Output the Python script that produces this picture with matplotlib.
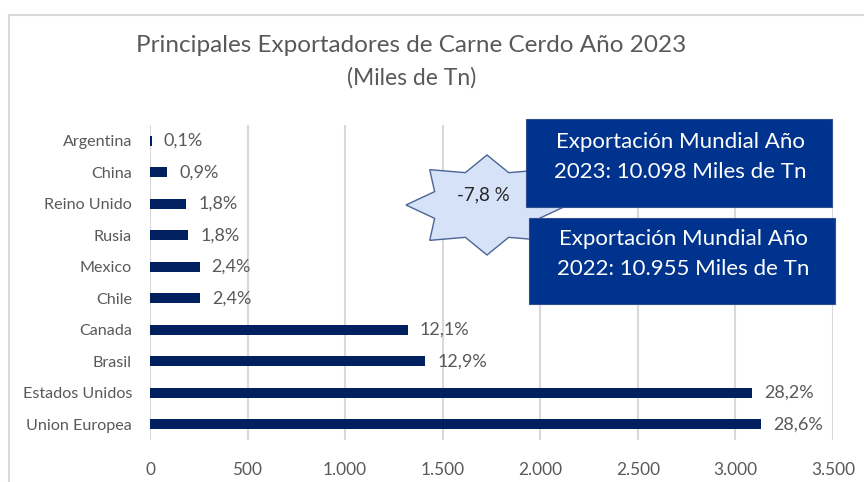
import matplotlib
matplotlib.use("Agg")
import matplotlib.pyplot as plt
import numpy as np
from matplotlib.patches import Rectangle, Polygon
from matplotlib.lines import Line2D

plt.rcParams["font.family"] = ["Lato", "DejaVu Sans"]

# exportaciones 2023, miles de Tn
paises = ["Argentina", "China", "Reino Unido", "Rusia", "Mexico", "Chile",
          "Canada", "Brasil", "Estados Unidos", "Union Europea"]
miles_tn = [8, 88, 185, 195, 254, 258, 1320, 1411, 3087, 3130]
participacion = ["0,1%", "0,9%", "1,8%", "1,8%", "2,4%", "2,4%",
                 "12,1%", "12,9%", "28,2%", "28,6%"]
xticks = [0, 500, 1000, 1500, 2000, 2500, 3000, 3500]
xtick_labels = ["0", "500", "1.000", "1.500", "2.000", "2.500", "3.000", "3.500"]

W, H = 864, 482
GRAY = "#595959"
GRID = "#D9D9D9"
NAVY = "#002060"
BOX = "#00338D"

fig = plt.figure(figsize=(W / 100, H / 100), dpi=100)


def px(x, y):
    """pixel position (from top-left) -> figure fraction"""
    return x / W, 1 - y / H


# chart frame
fig.add_artist(Line2D([9 / W, 1], [1 - 15 / H] * 2, color=GRID, lw=1.5))
fig.add_artist(Line2D([9 / W] * 2, [0, 1 - 15 / H], color=GRID, lw=1.5))

ax = fig.add_axes([150 / W, 1 - 440 / H, (833 - 150) / W, 315 / H])
y = np.arange(len(paises))
ax.barh(y, miles_tn, height=0.32, color=NAVY, zorder=3)
for yi, v, lab in zip(y, miles_tn, participacion):
    ax.text(v + 62, yi, lab, va="center", ha="left", fontsize=13, color=GRAY)

ax.set_xlim(0, 3500)
ax.set_ylim(9.5, -0.5)
ax.set_yticks(y, paises)
ax.set_xticks(xticks, xtick_labels)
ax.tick_params(length=0, labelcolor=GRAY)
ax.tick_params(axis="x", pad=16, labelsize=12.4)
ax.tick_params(axis="y", pad=13, labelsize=11.6)
ax.grid(axis="x", color=GRID, lw=1.5, zorder=0)
for s in ax.spines.values():
    s.set_visible(False)

fig.text(*px(411, 46), "Principales Exportadores de Carne Cerdo Año 2023",
         ha="center", va="center", fontsize=17.5, color=GRAY)
fig.text(*px(412, 78), "(Miles de Tn)", ha="center", va="center",
         fontsize=16.5, color=GRAY)

# starburst with the year-on-year change
cx, cy, rx, ry = 487, 205, 81, 50
ang = np.deg2rad(90 + np.arange(16) * 22.5)
r = np.where(np.arange(16) % 2 == 0, 1.0, 0.7)
star = [px(cx + rx * ri * np.cos(a), cy - ry * ri * np.sin(a)) for a, ri in zip(ang, r)]
fig.add_artist(Polygon(star, closed=True, transform=fig.transFigure,
                       facecolor="#D6E2F8", edgecolor="#4A6595", lw=1.0, zorder=5))
fig.text(*px(483, 195), "-7,8 %", ha="center", va="center", fontsize=13.5,
         color="#262626", zorder=6)

# world export boxes
boxes = [
    (526, 119, 306, 88, "Exportación Mundial Año", "2023: 10.098 Miles de Tn", 142),
    (529, 218, 306, 86, "Exportación Mundial Año", "2022: 10.955 Miles de Tn", 239),
]
for bx, by, bw, bh, l1, l2, ty in boxes:
    x0, y0 = px(bx, by + bh)
    fig.add_artist(Rectangle((x0, y0), bw / W, bh / H, transform=fig.transFigure,
                             facecolor=BOX, edgecolor="#2F4F8F", lw=0.8, zorder=7))
    for k, line in enumerate([l1, l2]):
        fig.text(*px(bx + bw / 2 + 1, ty + 30 * k), line, ha="center", va="center",
                 fontsize=16, color="white", zorder=8)

fig.savefig("out.png", dpi=100)
